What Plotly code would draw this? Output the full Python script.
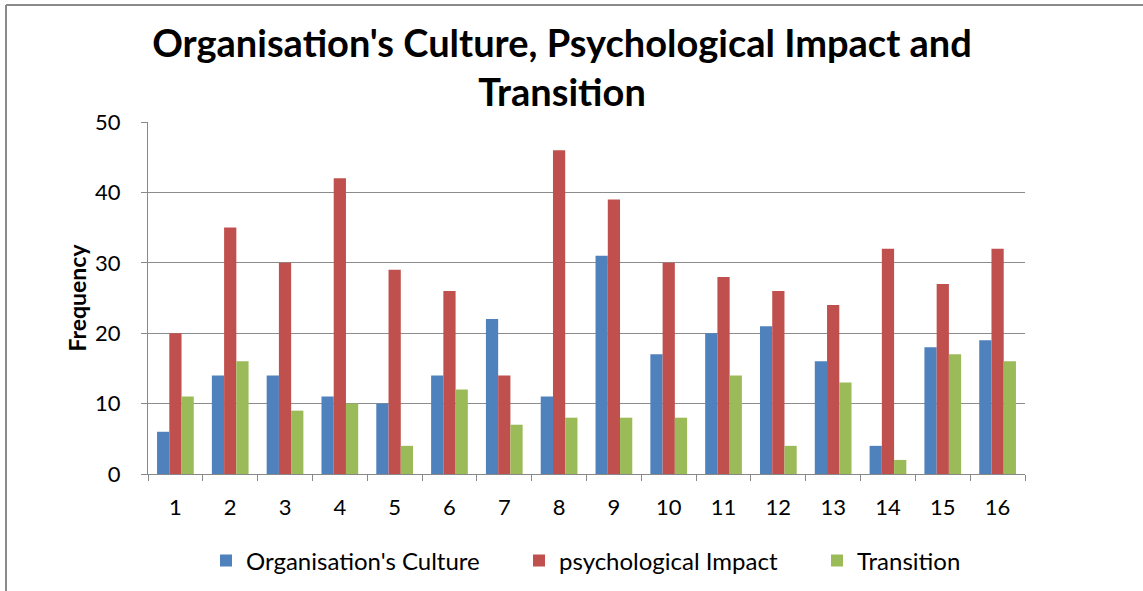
import plotly.graph_objects as go

categories = [str(i) for i in range(1, 17)]
org_culture = [6, 14, 14, 11, 10, 14, 22, 11, 31, 17, 20, 21, 16, 4, 18, 19]
psych_impact = [20, 35, 30, 42, 29, 26, 14, 46, 39, 30, 28, 26, 24, 32, 27, 32]
transition = [11, 16, 9, 10, 4, 12, 7, 8, 8, 8, 14, 4, 13, 2, 17, 16]

W, H = 1143, 591
L, R, T, B = 148, 118, 122, 117
pw, ph = W - L - R, H - T - B

fig = go.Figure()
for name, vals, col, lw in [("Organisation's Culture", org_culture, "#4F81BD", 268),
                            ("psychological Impact", psych_impact, "#C0504D", 253),
                            ("Transition", transition, "#9BBB59", 110)]:
    fig.add_trace(go.Bar(x=categories, y=vals, name=name, legendwidth=lw,
                         marker=dict(color=col, line=dict(width=0))))

def px_x(x):
    return (x - L) / pw

def px_y(y):
    return (H - B - y) / ph

fig.add_shape(type="line", xref="paper", yref="paper", x0=px_x(6), x1=px_x(6), y0=px_y(5), y1=px_y(600),
              line=dict(color="#8a8a8a", width=2))
fig.add_shape(type="line", xref="paper", yref="paper", x0=px_x(6), x1=px_x(1150), y0=px_y(5), y1=px_y(5),
              line=dict(color="#8a8a8a", width=2))

fig.update_layout(
    width=W, height=H,
    margin=dict(l=L, r=R, t=T, b=B, autoexpand=False),
    paper_bgcolor="white", plot_bgcolor="white",
    barmode="group", bargap=0.33, bargroupgap=0,
    font=dict(family="Lato", color="#000000"),
    title=dict(text="Organisation's Culture, Psychological Impact and<br>Transition",
               x=562 / W, xanchor="center", y=1 - 57 / H, yanchor="middle",
               font=dict(family="Lato", size=38, color="#000000", weight="bold")),
    legend=dict(orientation="h", x=px_x(206), xanchor="left", y=px_y(561), yanchor="middle",
                font=dict(size=24, color="#000"), itemwidth=30, traceorder="normal",
                entrywidthmode="pixels"),
    showlegend=True,
)
fig.update_xaxes(type="category", showline=True, linecolor="#888888", linewidth=1, automargin=False,
                 ticks="outside", tickson="boundaries", ticklen=6, tickcolor="#888888",
                 tickfont=dict(size=22, color="#000"), showgrid=False, ticklabelstandoff=14)
fig.update_yaxes(range=[0, 50], dtick=10, showline=True, linecolor="#888888", linewidth=1, automargin=False,
                 ticks="outside", ticklen=6, tickcolor="#888888", showgrid=True, gridcolor="#8c8c8c",
                 gridwidth=1, tickfont=dict(size=22, color="#000"), zeroline=False, ticklabelstandoff=16,
                 title=dict(text="<b>Frequency</b>", font=dict(size=23, color="#000"), standoff=2))
fig.write_html("out.html", post_script="document.body.style.margin='0px';",
               config={"displayModeBar": False})
